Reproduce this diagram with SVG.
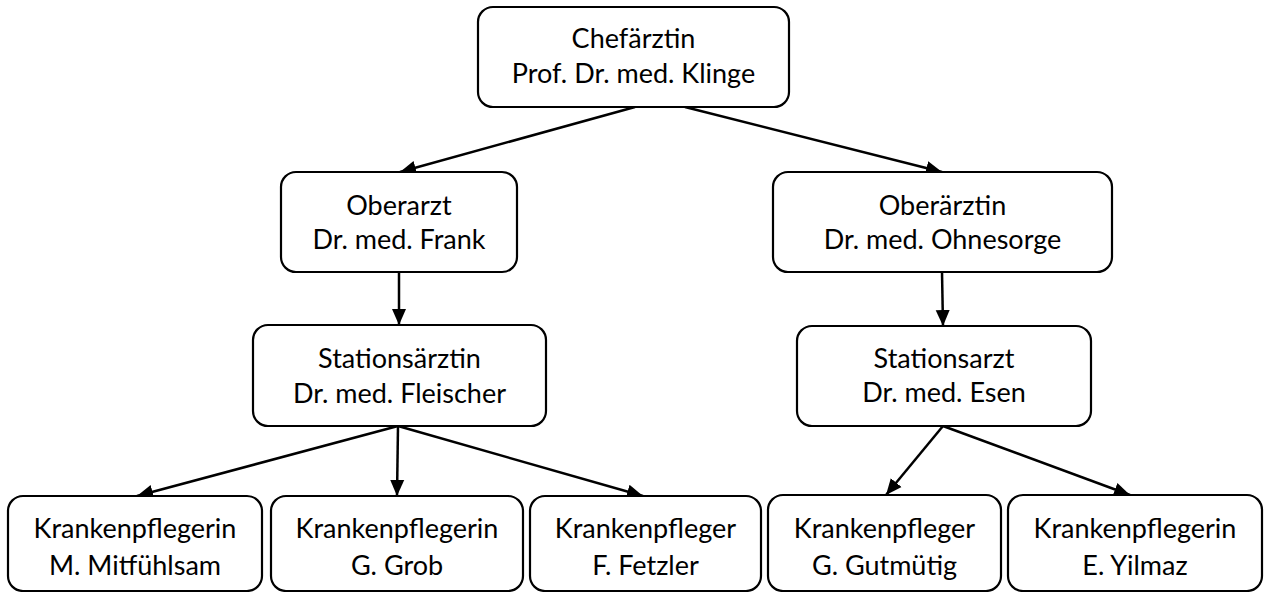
<svg xmlns="http://www.w3.org/2000/svg" width="1264" height="592" viewBox="0 0 1264 592">
<style>
.box{fill:#fff;stroke:#000;stroke-width:2.2}
.t{font-family:Lato,"Open Sans",sans-serif;font-size:27px;fill:#000;text-anchor:middle}
.c{stroke:#000;stroke-width:2.5;fill:none;marker-end:url(#ah)}
</style>
<defs>
<marker id="ah" markerUnits="userSpaceOnUse" markerWidth="18" markerHeight="16" refX="16" refY="8" orient="auto">
<path d="M0,1 L16,8 L0,15 Z" fill="#000"/>
</marker>
</defs>
<rect width="1264" height="592" fill="#fff"/>
<g id="connectors">
<line class="c" x1="635" y1="107" x2="400" y2="172"/>
<line class="c" x1="685" y1="107" x2="942" y2="172"/>
<line class="c" x1="399" y1="272" x2="399" y2="325"/>
<line class="c" x1="942" y1="272" x2="943" y2="326"/>
<line class="c" x1="398" y1="426" x2="137" y2="496"/>
<line class="c" x1="398" y1="426" x2="397" y2="496"/>
<line class="c" x1="398" y1="426" x2="643" y2="496"/>
<line class="c" x1="943" y1="426" x2="886" y2="495"/>
<line class="c" x1="943" y1="426" x2="1130" y2="495"/>
</g>
<g id="chef">
<rect class="box" x="478" y="7" width="311" height="100" rx="15"/>
<text class="t" x="633.5" y="48">Chefärztin</text>
<text class="t" x="633.5" y="83">Prof. Dr. med. Klinge</text>
</g>
<g id="oberarzt">
<rect class="box" x="281" y="172" width="236" height="100" rx="15"/>
<text class="t" x="399" y="215">Oberarzt</text>
<text class="t" x="399" y="249">Dr. med. Frank</text>
</g>
<g id="oberaerztin">
<rect class="box" x="773" y="172" width="339" height="100" rx="15"/>
<text class="t" x="942.5" y="215">Oberärztin</text>
<text class="t" x="942.5" y="249">Dr. med. Ohnesorge</text>
</g>
<g id="stationsaerztin">
<rect class="box" x="253" y="325" width="293" height="101" rx="15"/>
<text class="t" x="399.5" y="368">Stationsärztin</text>
<text class="t" x="399.5" y="403">Dr. med. Fleischer</text>
</g>
<g id="stationsarzt">
<rect class="box" x="797" y="326" width="294" height="100" rx="15"/>
<text class="t" x="944" y="368">Stationsarzt</text>
<text class="t" x="944" y="402">Dr. med. Esen</text>
</g>
<g id="mitfuehlsam">
<rect class="box" x="8" y="496" width="254" height="95" rx="15"/>
<text class="t" x="135" y="538">Krankenpflegerin</text>
<text class="t" x="135" y="575">M. Mitfühlsam</text>
</g>
<g id="grob">
<rect class="box" x="271" y="496" width="252" height="95" rx="15"/>
<text class="t" x="397" y="538">Krankenpflegerin</text>
<text class="t" x="397" y="575">G. Grob</text>
</g>
<g id="fetzler">
<rect class="box" x="530" y="496" width="231" height="95" rx="15"/>
<text class="t" x="645.5" y="538">Krankenpfleger</text>
<text class="t" x="645.5" y="575">F. Fetzler</text>
</g>
<g id="gutmuetig">
<rect class="box" x="768" y="495" width="233" height="96" rx="15"/>
<text class="t" x="884.5" y="538">Krankenpfleger</text>
<text class="t" x="884.5" y="575">G. Gutmütig</text>
</g>
<g id="yilmaz">
<rect class="box" x="1008" y="495" width="254" height="96" rx="15"/>
<text class="t" x="1135" y="538">Krankenpflegerin</text>
<text class="t" x="1135" y="575">E. Yilmaz</text>
</g>
</svg>
